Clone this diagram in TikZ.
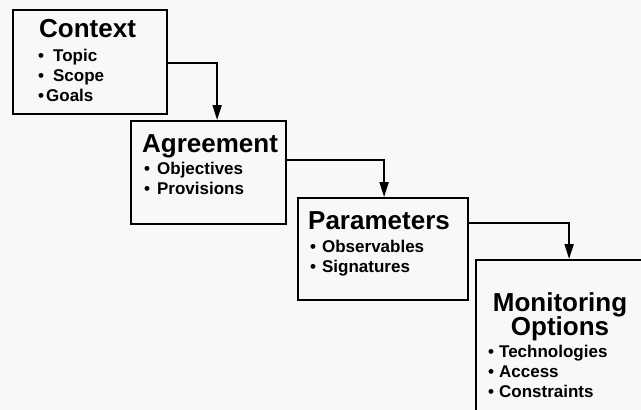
\documentclass[tikz,border=0pt]{standalone}
\usepackage{fontspec}
\setmainfont{Liberation Sans}
\usetikzlibrary{arrows.meta,positioning}
\definecolor{bg}{HTML}{F8F8F8}
\tikzset{
  box/.style={draw=black,line width=2.2pt,inner sep=0pt,anchor=north west},
  ttl/.style={font=\bfseries\fontsize{26}{26}\selectfont,inner sep=0pt,anchor=base west},
  itm/.style={font=\bfseries\fontsize{17}{17}\selectfont,inner sep=0pt,anchor=base west},
  arr/.style={line width=2pt,-{Triangle[width=9pt,length=15pt]}}
}
\newcommand{\bul}[1]{\textbullet\hspace{#1}}
\begin{document}
\begin{tikzpicture}[x=1pt,y=-1pt]
\useasboundingbox (0,0) rectangle (641,410);
\fill[bg] (0,0) rectangle (641,410);
\clip (0,0) rectangle (641,410);
% boxes
\node[box,minimum width=154pt,minimum height=104pt] (ctx) at (12,9) {};
\node[box,minimum width=155pt,minimum height=103pt] (agr) at (130,120) {};
\node[box,minimum width=170pt,minimum height=102pt] (par) at (297,197) {};
\node[box,minimum width=186pt,minimum height=170pt] (mon) at (475,259) {};
% Context
\node[ttl] (ctxT) at (39,37) {Context};
\node[itm] (ctx1) at (38,61) {\bul{9pt}Topic};
\node[itm] (ctx2) at (38,81) {\bul{9pt}Scope};
\node[itm] (ctx3) at (38,101) {\bul{2pt}Goals};
% Agreement
\node[ttl] (agrT) at (142,152) {Agreement};
\node[itm] (agr1) at (144,174) {\bul{7pt}Objectives};
\node[itm] (agr2) at (144,194) {\bul{7pt}Provisions};
% Parameters
\node[ttl] (parT) at (308,229) {Parameters};
\node[itm] (par1) at (310,252) {\bul{6pt}Observables};
\node[itm] (par2) at (310,272) {\bul{6pt}Signatures};
% Monitoring Options
\node[ttl,anchor=base] (monT1) at (560,311) {Monitoring};
\node[ttl,anchor=base] (monT2) at (560,335) {Options};
\node[itm] (mon1) at (488,357) {\bul{5pt}Technologies};
\node[itm] (mon2) at (488,377) {\bul{5pt}Access};
\node[itm] (mon3) at (488,397) {\bul{5pt}Constraints};
% connectors
\draw[arr] ([yshift=-1pt]ctx.east) -| ([xshift=8.5pt]agr.north);
\draw[arr] ([yshift=12.5pt]agr.east) -| ([xshift=1pt]par.north);
\draw[arr] ([yshift=26pt]par.east) -| (mon.north);
\end{tikzpicture}
\end{document}
